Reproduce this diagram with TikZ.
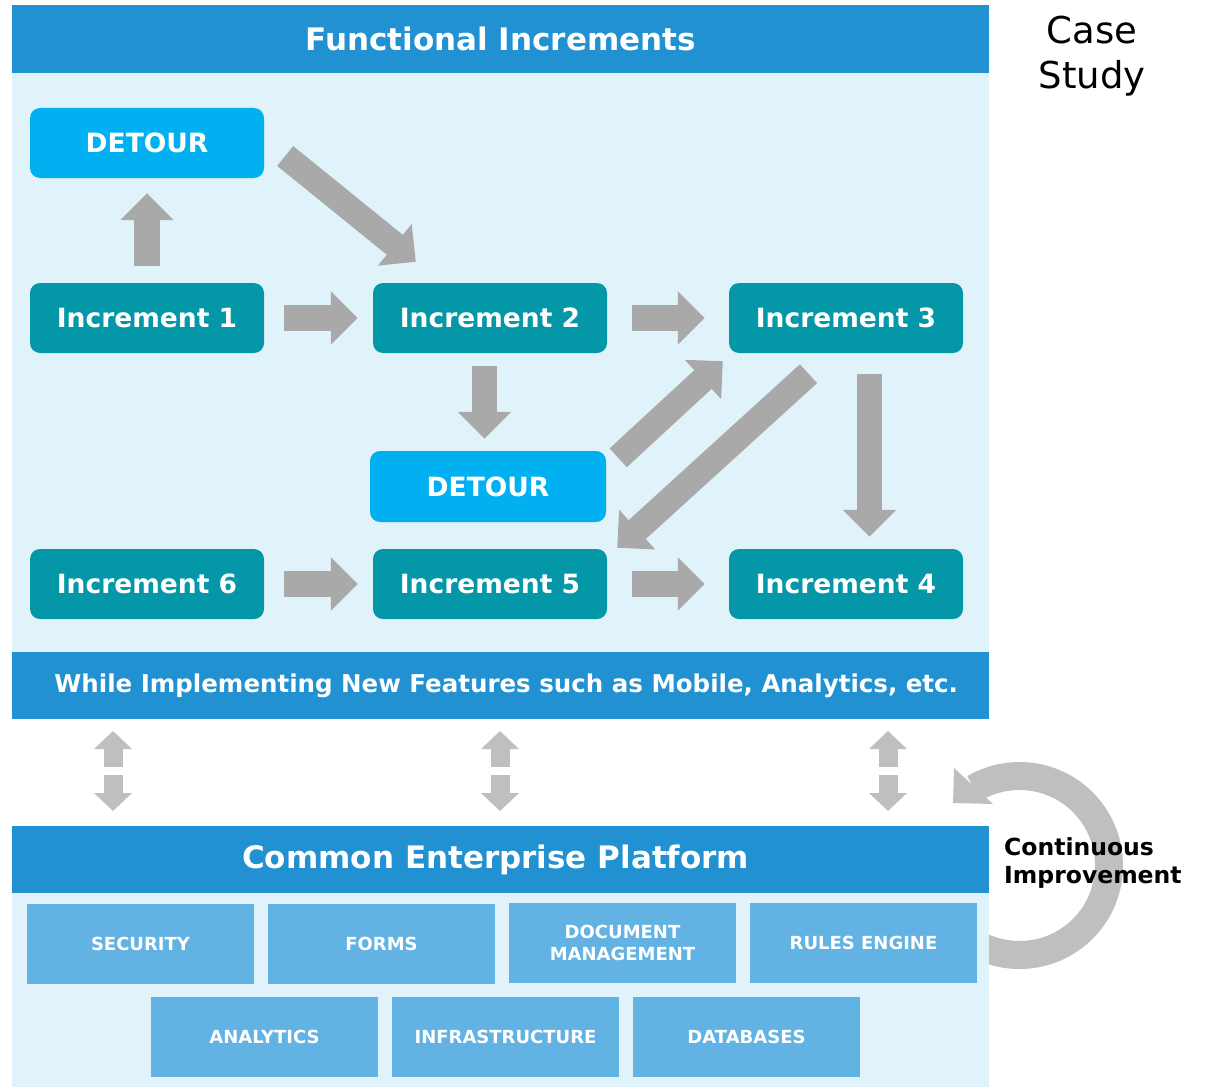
\documentclass[tikz,border=0pt]{standalone}
\usepackage{fontspec}
\setmainfont{DejaVu Sans}
\usetikzlibrary{arrows.meta,calc}
\definecolor{hdr}{RGB}{34,145,210}
\definecolor{lightbg}{RGB}{225,243,250}
\definecolor{tealbox}{RGB}{3,151,168}
\definecolor{detbox}{RGB}{0,176,240}
\definecolor{platbox}{RGB}{98,179,228}
\definecolor{arrgray}{RGB}{169,169,169}
\definecolor{lgray}{RGB}{191,191,191}
\begin{document}
\begin{tikzpicture}[x=1pt,y=1pt,
  hdrbar/.style={fill=hdr, draw=none, anchor=north west, minimum width=977pt, minimum height=67pt, inner sep=0pt, text=white, font=\bfseries\fontsize{31}{36}\selectfont},
  areabg/.style={fill=lightbg, draw=none, anchor=north west, minimum width=977pt, inner sep=0pt},
  incbox/.style={fill=tealbox, draw=none, rounded corners=10pt, minimum width=234pt, minimum height=70pt, inner sep=0pt, text=white, font=\bfseries\fontsize{26.5}{30}\selectfont},
  detourbox/.style={incbox, fill=detbox},
  platformbox/.style={fill=platbox, draw=none, minimum width=227pt, minimum height=80pt, inner sep=0pt, text=white, align=center, font=\bfseries\fontsize{18}{22}\selectfont},
  fatarrow/.style={draw=arrgray, line width=25.5pt, -{Triangle[width=52pt,length=27pt]}},
  smallarrow/.style={draw=lgray, line width=19pt, -{Triangle[width=37pt,length=18pt]}},
  ringline/.style={draw=lgray, line width=28pt},
  ringhead/.style={fill=lgray, draw=none},
]
\useasboundingbox (0,0) rectangle (1206,-1089);
\fill[white] (0,0) rectangle (1206,-1089);

% continuous improvement ring (behind the platform boxes)
\coordinate (cc) at (1019.5,-865.5);
\draw[ringline] ([shift={(-140:89.5)}]cc) arc[start angle=-140, end angle=120.5, radius=89.5];
\fill[ringhead] ([shift={(-66.5,62.5)}]cc) -- ([shift={(-65.5,97.5)}]cc) -- ([shift={(-26.5,61.5)}]cc) -- cycle;

% backgrounds
\node[areabg, minimum height=579pt] (farea) at (12,-73) {};
\node[hdrbar, minimum height=68pt] (fhead) at (12,-5) {Functional Increments};
\node[hdrbar, font=\bfseries\fontsize{24.5}{28}\selectfont] (band) at (12,-652) {\hspace*{11pt}While Implementing New Features such as Mobile, Analytics, etc.};
\node[hdrbar] (phead) at (12,-826) {\hspace*{-10pt}Common Enterprise Platform};
\node[areabg, minimum height=194pt] (parea) at (12,-893) {};

% increments
\node[detourbox] (d1) at (147,-143) {DETOUR};
\node[incbox] (i1) at (147,-318) {Increment 1};
\node[incbox] (i2) at (490,-318) {Increment 2};
\node[incbox] (i3) at (846,-318) {Increment 3};
\node[detourbox, minimum width=236pt, minimum height=71pt] (d2) at (488,-486.5) {DETOUR};
\node[incbox] (i6) at (147,-584) {Increment 6};
\node[incbox] (i5) at (490,-584) {Increment 5};
\node[incbox] (i4) at (846,-584) {Increment 4};

% arrows
\draw[fatarrow] ([yshift=17pt]i1.north) -- ([yshift=-15pt]d1.south);
\draw[fatarrow] ([xshift=20pt]i1.east) -- ([xshift=-15pt]i2.west);
\draw[fatarrow] ([shift={(21,-13)}]d1.east) -- ([shift={(43,21)}]i2.north west);
\draw[fatarrow] ([xshift=25pt]i2.east) -- ([xshift=-24pt]i3.west);
\draw[fatarrow] ([shift={(-5.5,-13)}]i2.south) -- ([shift={(-3.5,12)}]d2.north);
\draw[fatarrow] ([shift={(12,-7)}]d2.north east) -- ([shift={(-6,-8)}]i3.south west);
\draw[fatarrow] ([shift={(-37.5,-20.5)}]i3.south) -- ([shift={(10,1)}]i5.north east);
\draw[fatarrow] ([shift={(23.5,-21)}]i3.south) -- ([shift={(23.5,12)}]i4.north);
\draw[fatarrow] ([xshift=20pt]i6.east) -- ([xshift=-15pt]i5.west);
\draw[fatarrow] ([xshift=25pt]i5.east) -- ([xshift=-24pt]i4.west);

% double arrows between band and platform
\foreach \x/\n in {113/a,500/b,888/c}{
  \coordinate (\n top) at (\x,-731);
  \coordinate (\n up) at (\x,-767);
  \coordinate (\n down) at (\x,-775);
  \coordinate (\n bot) at (\x,-811);
  \draw[smallarrow] (\n up) -- (\n top);
  \draw[smallarrow] (\n down) -- (\n bot);
}

% platform boxes
\node[platformbox] (sec) at (140.5,-944) {SECURITY};
\node[platformbox] (frm) at (381.5,-944) {FORMS};
\node[platformbox] (doc) at (622.5,-943) {DOCUMENT\\MANAGEMENT};
\node[platformbox] (rul) at (863.5,-943) {RULES ENGINE};
\node[platformbox] (ana) at (264.5,-1036.5) {ANALYTICS};
\node[platformbox] (inf) at (505.5,-1036.5) {INFRASTRUCTURE};
\node[platformbox] (dbs) at (746.5,-1036.5) {DATABASES};

% side texts
\node[anchor=west, align=left, inner sep=0pt, font=\bfseries\fontsize{23.5}{28}\selectfont] (ci) at (1004,-863) {Continuous\\Improvement};
\node[align=center, inner sep=0pt, font=\fontsize{37}{45}\selectfont] (cs) at (1092,-56) {Case\\Study};
\end{tikzpicture}
\end{document}
